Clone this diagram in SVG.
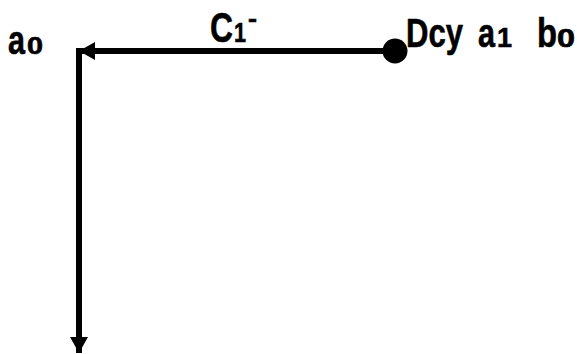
<svg xmlns="http://www.w3.org/2000/svg" width="577" height="354" viewBox="0 0 577 354">
<style>
.t{font-family:"Liberation Sans",Arial,sans-serif;font-weight:bold;fill:#000;stroke:#000;stroke-width:0.6}
.ln{stroke:#000;stroke-width:6;fill:none}
</style>
<defs>
<marker id="ah" markerUnits="userSpaceOnUse" markerWidth="18" markerHeight="18" refX="16" refY="9" orient="auto">
<path d="M0,0 L16,9 L0,18 Z" fill="#000"/>
</marker>
</defs>
<g id="connectors">
<line class="ln" x1="395" y1="51" x2="79" y2="51" marker-end="url(#ah)"/>
<line class="ln" x1="79" y1="48" x2="79" y2="353" marker-end="url(#ah)"/>
</g>
<g id="node-dcy">
<circle cx="395" cy="51" r="12.5" fill="#000"/>
<text class="t" y="47" style="font-size:40px"><tspan x="406" textLength="57" lengthAdjust="spacingAndGlyphs">Dcy</tspan><tspan x="478" textLength="17" lengthAdjust="spacingAndGlyphs">a</tspan><tspan x="497" style="font-size:28px" textLength="15" lengthAdjust="spacingAndGlyphs">1</tspan><tspan x="537" textLength="20" lengthAdjust="spacingAndGlyphs">b</tspan><tspan x="557" style="font-size:25px" textLength="18" lengthAdjust="spacingAndGlyphs">0</tspan></text>
</g>
<g id="node-a0">
<text class="t" y="54" style="font-size:41px"><tspan x="8" textLength="17" lengthAdjust="spacingAndGlyphs">a</tspan><tspan x="27" style="font-size:23px" textLength="16" lengthAdjust="spacingAndGlyphs">0</tspan></text>
</g>
<g id="label-c1">
<text class="t" y="42" style="font-size:43px"><tspan x="210" textLength="23" lengthAdjust="spacingAndGlyphs">C</tspan><tspan x="234" style="font-size:28px" textLength="12" lengthAdjust="spacingAndGlyphs">1</tspan><tspan x="248" y="27" style="font-size:24px" textLength="9" lengthAdjust="spacingAndGlyphs">-</tspan></text>
</g>
</svg>
